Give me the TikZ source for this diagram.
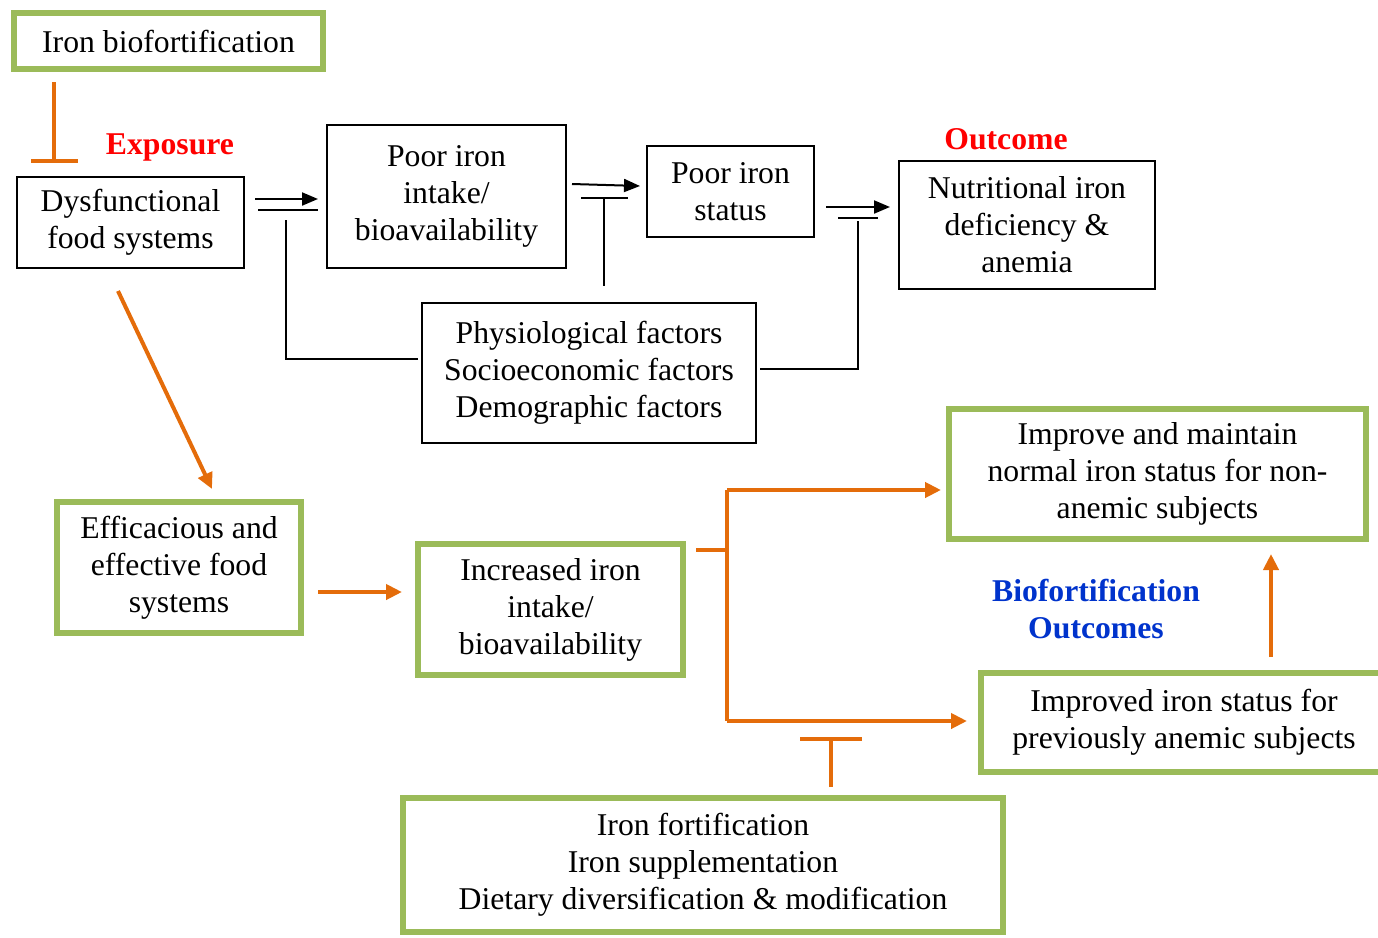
\documentclass[tikz,border=0pt]{standalone}
\usepackage{fontspec}
\setmainfont{Liberation Serif}
\usetikzlibrary{arrows.meta}

\definecolor{leaf}{RGB}{155,187,89}
\definecolor{rust}{RGB}{228,108,10}
\definecolor{navy}{RGB}{0,51,204}

\begin{document}
\begin{tikzpicture}[x=1pt,y=-1pt,font=\fontsize{31.7}{37}\selectfont]
\tikzstyle{plain}=[draw, line width=2pt, align=center, inner sep=0pt]
\tikzstyle{green}=[draw=leaf, line width=6pt, align=center, inner sep=0pt]
\tikzstyle{link}=[line width=2pt]
\tikzstyle{olink}=[draw=rust, line width=4pt]
\tikzstyle{tip}=[-{Triangle[length=16pt,width=13pt]}]
\tikzstyle{otip}=[-{Triangle[length=16pt,width=15pt]}]
\tikzstyle{tag}=[font=\fontsize{31.7}{37}\selectfont\bfseries, align=center]

\useasboundingbox (0,0) rectangle (1378,937);

% boxes
\node[green, minimum width=309pt, minimum height=56pt] (bio) at (168.5,41) {Iron biofortification};
\node[plain, minimum width=227pt, minimum height=91pt] (dys) at (130.5,222.5) {Dysfunctional\\food systems};
\node[plain, minimum width=239pt, minimum height=143pt] (intake) at (446.5,196.5) {Poor iron\\intake/\\bioavailability};
\node[plain, minimum width=167pt, minimum height=91pt] (status) at (730.5,191.5) {Poor iron\\status};
\node[plain, minimum width=256pt, minimum height=128pt] (anemia) at (1027,225) {Nutritional iron\\deficiency \&\\anemia};
\node[plain, minimum width=334pt, minimum height=140pt] (factors) at (589,373) {Physiological factors\\Socioeconomic factors\\Demographic factors};
\node[green, minimum width=244pt, minimum height=131pt] (food) at (179,567.5) {Efficacious and\\effective food\\systems};
\node[green, minimum width=265pt, minimum height=131pt] (more) at (550.5,609.5) {Increased iron\\intake/\\bioavailability};
\node[green, minimum width=417pt, minimum height=130pt] (normal) at (1157.5,474) {Improve and maintain\\normal iron status for non-\\anemic subjects};
\node[green, minimum width=406pt, minimum height=99pt] (anemic) at (1184,722.5) {Improved iron status for\\previously anemic subjects};
\node[green, minimum width=600pt, minimum height=134pt] (other) at (703,865) {Iron fortification\\Iron supplementation\\Dietary diversification \& modification};

% labels
\node[tag, text=red] (expo) at (170,147) {Exposure};
\node[tag, text=red] (outc) at (1006,139) {Outcome};
\node[tag, text=navy] (bfo) at (1096,609) {Biofortification\\Outcomes};

% free ends
\coordinate (b1) at (54,82);   \coordinate (b2) at (54,163);
\coordinate (d1) at (255,199); \coordinate (d2) at (318,199);
\coordinate (e1) at (258,210); \coordinate (e2) at (318,210);
\coordinate (f1) at (286,220); \coordinate (f2) at (286,359);
\coordinate (p1) at (572,184); \coordinate (p2) at (640,186);
\coordinate (q1) at (581,198); \coordinate (q2) at (628,198);
\coordinate (r1) at (604,198); \coordinate (r2) at (604,286);
\coordinate (s1) at (826,207); \coordinate (s2) at (890,207);
\coordinate (t1) at (838,218); \coordinate (t2) at (878,218);
\coordinate (u1) at (858,221); \coordinate (u2) at (858,369);
\coordinate (g1) at (118,291); \coordinate (g2) at (212,489);
\coordinate (h1) at (318,592); \coordinate (h2) at (402,592);
\coordinate (k0) at (696,550); \coordinate (k1) at (727,550);
\coordinate (k2) at (727,490); \coordinate (k3) at (727,721);
\coordinate (k4) at (941,490); \coordinate (k5) at (967,721);
\coordinate (m1) at (831,787); \coordinate (m2) at (831,737);
\coordinate (n1) at (1271,657); \coordinate (n2) at (1271,554);

% black connectors
\draw[link, tip] (d1) -- (d2);
\draw[link] (e1) -- (e2);
\draw[link] ([xshift=-3pt,yshift=14pt]factors.west) -- (f2) -- (f1);
\draw[link, tip] (p1) -- (p2);
\draw[link] (q1) -- (q2);
\draw[link] (r1) -- (r2);
\draw[link, tip] (s1) -- (s2);
\draw[link] (t1) -- (t2);
\draw[link] ([xshift=3pt,yshift=4pt]factors.east) -- (u2) -- (u1);

% orange connectors
\draw[olink, -{Bar[width=47pt]}] (b1) -- (b2);
\draw[olink, otip] (g1) -- (g2);
\draw[olink, otip] (h1) -- (h2);
\draw[olink] (k0) -- (k1);
\draw[olink] (k2) -- (k3);
\draw[olink, otip] (k2) -- (k4);
\draw[olink, otip] (k3) -- (k5);
\draw[olink, -{Bar[width=62pt]}] (m1) -- (m2);
\draw[olink, otip] (n1) -- (n2);
\end{tikzpicture}
\end{document}
